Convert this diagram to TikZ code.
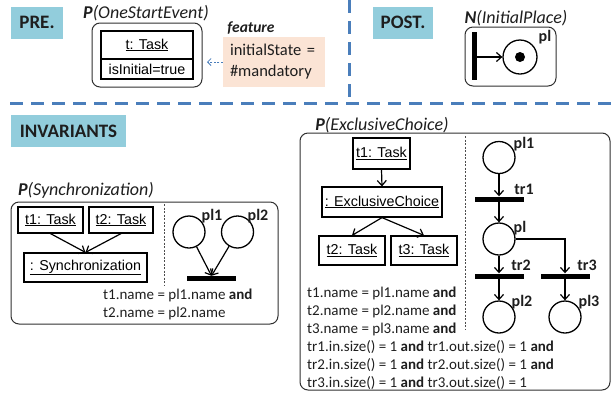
\documentclass[tikz,border=0pt]{standalone}
\usepackage{fontspec}
\setmainfont{Carlito}
\newfontfamily\arialf{Liberation Sans}
\usetikzlibrary{arrows.meta}
\definecolor{hdrblue}{HTML}{92CDDC}
\definecolor{dashblue}{HTML}{4A7EBB}
\definecolor{peach}{HTML}{FBE4D5}
\definecolor{txtgray}{HTML}{1E1E1E}
\definecolor{framegray}{HTML}{303030}
\begin{document}
\begin{tikzpicture}[x=1pt,y=-1pt,
  hdr/.style={fill=hdrblue, text=txtgray, font=\bfseries\fontsize{19}{22}\selectfont, inner sep=0pt, minimum height=32pt},
  pattl/.style={font=\itshape\fontsize{18}{21}\selectfont, text=txtgray, inner sep=0pt},
  frame/.style={draw=framegray, line width=1pt, rounded corners=8pt, inner sep=0pt},
  obj/.style={draw=black, line width=1.2pt, inner sep=0pt, font=\arialf\fontsize{14.3}{17}\selectfont},
  place/.style={draw=black, circle, line width=1.3pt, minimum size=32pt, inner sep=0pt},
  bar/.style={fill=black, inner sep=0pt, minimum width=49pt, minimum height=5pt},
  plab/.style={font=\bfseries\fontsize{16}{18}\selectfont, text=txtgray, inner sep=0pt},
  cons/.style={font=\fontsize{15}{18}\selectfont, text=txtgray, align=left, inner sep=0pt},
  arr/.style={line width=1.2pt, -{Straight Barb[length=5pt,width=9pt]}},
  sepline/.style={draw=black!70, line width=0.8pt, dash pattern=on 2pt off 1.5pt},
  dashline/.style={draw=dashblue, line width=3pt, dash pattern=on 13pt off 8pt},
  dasharrow/.style={draw=dashblue, line width=0.8pt, dash pattern=on 2pt off 1.5pt, -{Straight Barb[length=3.5pt,width=7pt]}}
]
\useasboundingbox (0,0) rectangle (614,392);

% separators
\coordinate (vt) at (349,0);
\coordinate (vb) at (349,97);
\coordinate (hl) at (10,103);
\coordinate (hr) at (614,103);
\draw[dashline] (vt) -- (vb);
\draw[dashline] (hl) -- (hr);

% headers
\node[hdr, minimum width=52pt] (pre) at (37,22.5) {PRE.};
\node[hdr, minimum width=60pt] (post) at (403,22.5) {POST.};
\node[hdr, minimum width=115pt] (inv) at (68.5,131) {INVARIANTS};

% PRE: OneStartEvent
\node[pattl] (osel) at (146,13) {\textbf{P}(OneStartEvent)};
\node[frame, minimum width=110pt, minimum height=64pt] (osefr) at (147,55) {};
\node[obj, minimum width=92pt, minimum height=28pt] (tt) at (147,45) {\underline{t: Task}};
\node[obj, minimum width=92pt, minimum height=20pt] (ini) at (147,69) {isInitial=true};
\node[font=\bfseries\itshape\fontsize{15.5}{18}\selectfont, text=txtgray, inner sep=0pt] (featl) at (251,28) {feature};
\node[fill=peach, minimum width=102pt, minimum height=50pt, text width=88pt, inner xsep=7pt, align=left,
      font=\fontsize{16.5}{21}\selectfont, text=txtgray] (feat) at (274,62) {initialState =\\\#mandatory};
\coordinate (fa) at (207,62);
\draw[dasharrow] (feat.west) -- (fa);

% POST: InitialPlace
\node[pattl] (ipll) at (516,18) {\textbf{N}(InitialPlace)};
\node[frame, minimum width=91pt, minimum height=59pt] (ipfr) at (510.5,56.5) {};
\node[fill=black, inner sep=0pt, minimum width=5pt, minimum height=48pt] (ibar) at (474.5,56) {};
\node[place, minimum size=34pt] (ipl) at (520,57) {};
\node[circle, fill=black, inner sep=0pt, minimum size=10pt] (tok) at (ipl.center) {};
\node[plab] (ipllab) at (545,37) {pl};
\draw[arr] (ibar.east |- ipl.west) -- (ipl.west);

% INVARIANT: Synchronization
\node[pattl] (syl) at (86,190) {\textbf{P}(Synchronization)};
\node[frame, minimum width=267pt, minimum height=122pt] (syfr) at (144.5,263) {};
\node[obj, minimum width=65pt, minimum height=26pt] (st1) at (50.5,220) {\underline{t1: Task}};
\node[obj, minimum width=64pt, minimum height=26pt] (st2) at (121,220) {\underline{t2: Task}};
\node[obj, minimum width=123pt, minimum height=29pt] (ssy) at (85.5,267.5) {\underline{: Synchronization}};
\draw[arr] (st1.south) -- (ssy.north);
\draw[arr] (st2.south) -- (ssy.north);
\coordinate (sdt) at (164,204);
\coordinate (sdb) at (164,285);
\draw[sepline] (sdt) -- (sdb);
\node[place] (spl1) at (189,232) {};
\node[place] (spl2) at (237.5,232) {};
\node[bar] (sbar) at (211.5,278.5) {};
\draw[arr] (spl1) -- (sbar.north);
\draw[arr] (spl2) -- (sbar.north);
\node[plab] (spl1l) at (212,216) {pl1};
\node[plab] (spl2l) at (258,216) {pl2};
\node[cons, anchor=west] (scons) at (103,304) {t1.name = pl1.name \textbf{and}\\t2.name = pl2.name};

% INVARIANT: ExclusiveChoice
\node[pattl] (ecl) at (382,125) {\textbf{P}(ExclusiveChoice)};
\node[frame, minimum width=310pt, minimum height=257pt] (ecfr) at (455,261.5) {};
\node[obj, minimum width=57pt, minimum height=31pt] (et1) at (381.5,153.5) {\underline{t1: Task}};
\node[obj, minimum width=120pt, minimum height=30pt] (eec) at (382,202) {\underline{: ExclusiveChoice}};
\node[obj, minimum width=66pt, minimum height=29pt] (et2) at (352,250.5) {\underline{t2: Task}};
\node[obj, minimum width=66pt, minimum height=29pt] (et3) at (424,250.5) {\underline{t3: Task}};
\draw[arr] (et1.south) -- (eec.north);
\draw[arr] (eec.south) -- (et2.north);
\draw[arr] (eec.south) -- (et3.north);
\coordinate (edt) at (465,136);
\coordinate (edb) at (465,330);
\draw[sepline] (edt) -- (edb);
\node[place] (epl1) at (499,157.5) {};
\node[bar] (etr1) at (499,199) {};
\node[place] (epl) at (499,239) {};
\node[bar] (etr2) at (499,276) {};
\node[bar] (etr3) at (565,276) {};
\node[place] (epl2) at (499,317) {};
\node[place] (epl3) at (565,317) {};
\draw[arr] (epl1.south) -- (etr1.north);
\draw[arr] (etr1.south) -- (epl.north);
\draw[arr] (epl.south) -- (etr2.north);
\draw[arr] (epl.east) -| (etr3.north);
\draw[arr] (etr2.south) -- (epl2.north);
\draw[arr] (etr3.south) -- (epl3.north);
\node[plab] (epl1l) at (524,144) {pl1};
\node[plab] (etr1l) at (524,189) {tr1};
\node[plab] (epll) at (520,228) {pl};
\node[plab] (etr2l) at (521,265) {tr2};
\node[plab] (etr3l) at (587,265) {tr3};
\node[plab] (epl2l) at (522,302) {pl2};
\node[plab] (epl3l) at (589,302) {pl3};
\node[cons, anchor=west] (econs) at (307,338.5) {t1.name = pl1.name \textbf{and}\\t2.name = pl2.name \textbf{and}\\t3.name = pl3.name \textbf{and}\\tr1.in.size() = 1 \textbf{and} tr1.out.size() = 1 \textbf{and}\\tr2.in.size() = 1 \textbf{and} tr2.out.size() = 1 \textbf{and}\\tr3.in.size() = 1 \textbf{and} tr3.out.size() = 1};
\end{tikzpicture}
\end{document}
